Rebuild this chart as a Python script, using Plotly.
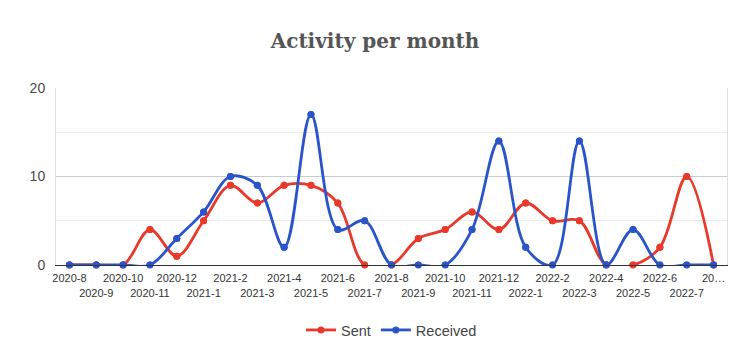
import plotly.graph_objects as go

months = ["2020-8", "2020-9", "2020-10", "2020-11", "2020-12",
          "2021-1", "2021-2", "2021-3", "2021-4", "2021-5", "2021-6",
          "2021-7", "2021-8", "2021-9", "2021-10", "2021-11", "2021-12",
          "2022-1", "2022-2", "2022-3", "2022-4", "2022-5", "2022-6",
          "2022-7", "2022-8"]
sent = [0, 0, 0, 4, 1, 5, 9, 7, 9, 9, 7, 0, 0, 3, 4, 6, 4, 7, 5, 5, 0, 0, 2, 10, 0]
received = [0, 0, 0, 0, 3, 6, 10, 9, 2, 17, 4, 5, 0, 0, 0, 4, 14, 2, 0, 14, 0, 4, 0, 0, 0]
tick_labels = months[:-1] + ["20…"]

RED = "#e8392b"
BLUE = "#2a54c9"

# staggered tick labels (two rows)
ticktext = [lab if i % 2 == 0 else "<br>" + lab for i, lab in enumerate(tick_labels)]

fig = go.Figure()
for name, vals, color in [("Sent", sent, RED), ("Received", received, BLUE)]:
    fig.add_trace(go.Scatter(
        x=months, y=vals, name=name, mode="lines+markers",
        line=dict(color=color, width=2.8, shape="spline", smoothing=1.0),
        marker=dict(color=color, size=7),
        cliponaxis=True, legendgroup=name, showlegend=True,
    ))
    fig.add_trace(go.Scatter(
        x=months, y=vals, name=name, mode="markers",
        marker=dict(color=color, size=7),
        cliponaxis=False, legendgroup=name, showlegend=False, hoverinfo="skip",
    ))

fig.update_layout(
    width=750, height=341,
    margin=dict(l=56, r=23, t=88, b=76),
    paper_bgcolor="white", plot_bgcolor="white",
    title=dict(text="<b>Activity per month</b>", x=0.5, xanchor="center",
               y=1 - 41 / 341, yanchor="middle", yref="container",
               font=dict(family="DejaVu Serif", size=20, color="#555555")),
    font=dict(family="Liberation Sans, Arial", color="#444444"),
    showlegend=True,
    legend=dict(orientation="h", x=0.5, xanchor="center", xref="paper",
                y=1 - 330 / 341, yanchor="middle", yref="container",
                font=dict(size=14.5, color="#444444"), traceorder="normal"),
)
fig.update_xaxes(
    type="category", range=[-0.5, len(months) - 0.5],
    tickmode="array", tickvals=months, ticktext=ticktext,
    tickfont=dict(size=11, color="#333333"), ticks="",
    ticklabelstandoff=3,
    showgrid=False, zeroline=False,
    showline=True, linecolor="#333333", linewidth=1,
    tickangle=0,
)
fig.update_yaxes(
    range=[0, 20], dtick=10, tick0=0,
    tickfont=dict(size=14, color="#4a4a4a"), ticks="",
    ticklabelstandoff=7,
    showgrid=True, gridcolor="#cccccc", gridwidth=1,
    minor=dict(dtick=5, showgrid=True, gridcolor="#ebebeb"),
    zeroline=False,
    showline=True, mirror=True, linecolor="#e0e0e0", linewidth=1,
)

fig.write_html("out.html")
